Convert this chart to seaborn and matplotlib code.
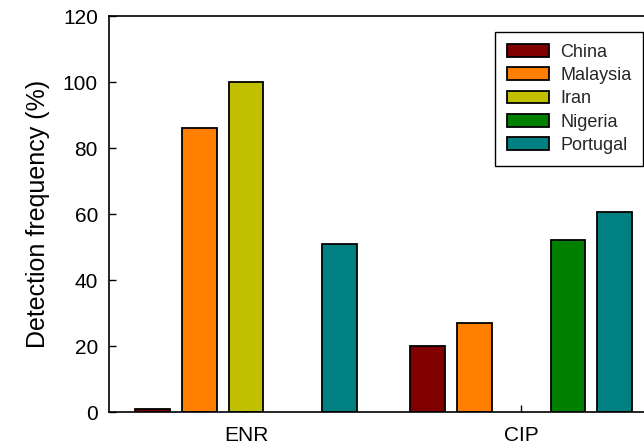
import numpy as np
import pandas as pd
import matplotlib
matplotlib.use("Agg")
import matplotlib.pyplot as plt
import seaborn as sns

# Detection frequency (%) of two fluoroquinolones by country
compounds = ["ENR", "CIP"]
countries = ["China", "Malaysia", "Iran", "Nigeria", "Portugal"]
enr_values = [1, 86, 100, np.nan, 51]
cip_values = [20, 27, np.nan, 52, 60.5]
colors = ["#800000", "#FF8000", "#C0C000", "#008000", "#008080"]
y_ticks = [0, 20, 40, 60, 80, 100, 120]

rows = []
for compound, vals in zip(compounds, [enr_values, cip_values]):
    for country, v in zip(countries, vals):
        rows.append({"compound": compound, "country": country, "freq": v})
df = pd.DataFrame(rows)

sns.set_theme(style="white")
plt.rcParams["font.family"] = ["Liberation Sans", "DejaVu Sans"]

fig = plt.figure(figsize=(6.44, 4.46), dpi=100)
ax = fig.add_axes([109 / 644, 1 - 412 / 446, 1 - 109 / 644, (412 - 16) / 446])

sns.barplot(
    data=df.dropna(), x="compound", y="freq", hue="country",
    order=compounds, hue_order=countries, palette=colors, saturation=1,
    width=0.85, gap=0.26, errorbar=None, edgecolor="black",
    linewidth=1.3, ax=ax, legend=True,
)

ax.set_xlim(-0.498, 1.447)
ax.set_ylim(0, 120)
ax.set_yticks(y_ticks)
ax.set_xlabel("")
ax.set_ylabel("Detection frequency (%)", fontsize=18, labelpad=9, color="black")
ax.tick_params(axis="y", direction="in", length=5, width=1, labelsize=15, pad=8,
               left=True, colors="black")
ax.tick_params(axis="x", direction="in", length=5, width=1, labelsize=15, pad=10,
               bottom=True, colors="black")
for side in ["left", "top", "bottom"]:
    ax.spines[side].set_visible(True)
    ax.spines[side].set_color("black")
    ax.spines[side].set_linewidth(1.2)
ax.spines["right"].set_visible(False)

leg = ax.legend(
    loc="upper right", bbox_to_anchor=(643 / 644, 1 - 32 / 446),
    bbox_transform=fig.transFigure, borderaxespad=0, fontsize=13,
    frameon=True, fancybox=False, edgecolor="black", framealpha=1,
    handlelength=2.36, handleheight=0.7, labelspacing=0.35,
    borderpad=0.65, handletextpad=0.6,
)
leg.get_frame().set_linewidth(1.0)

fig.savefig("out.png", dpi=100)
